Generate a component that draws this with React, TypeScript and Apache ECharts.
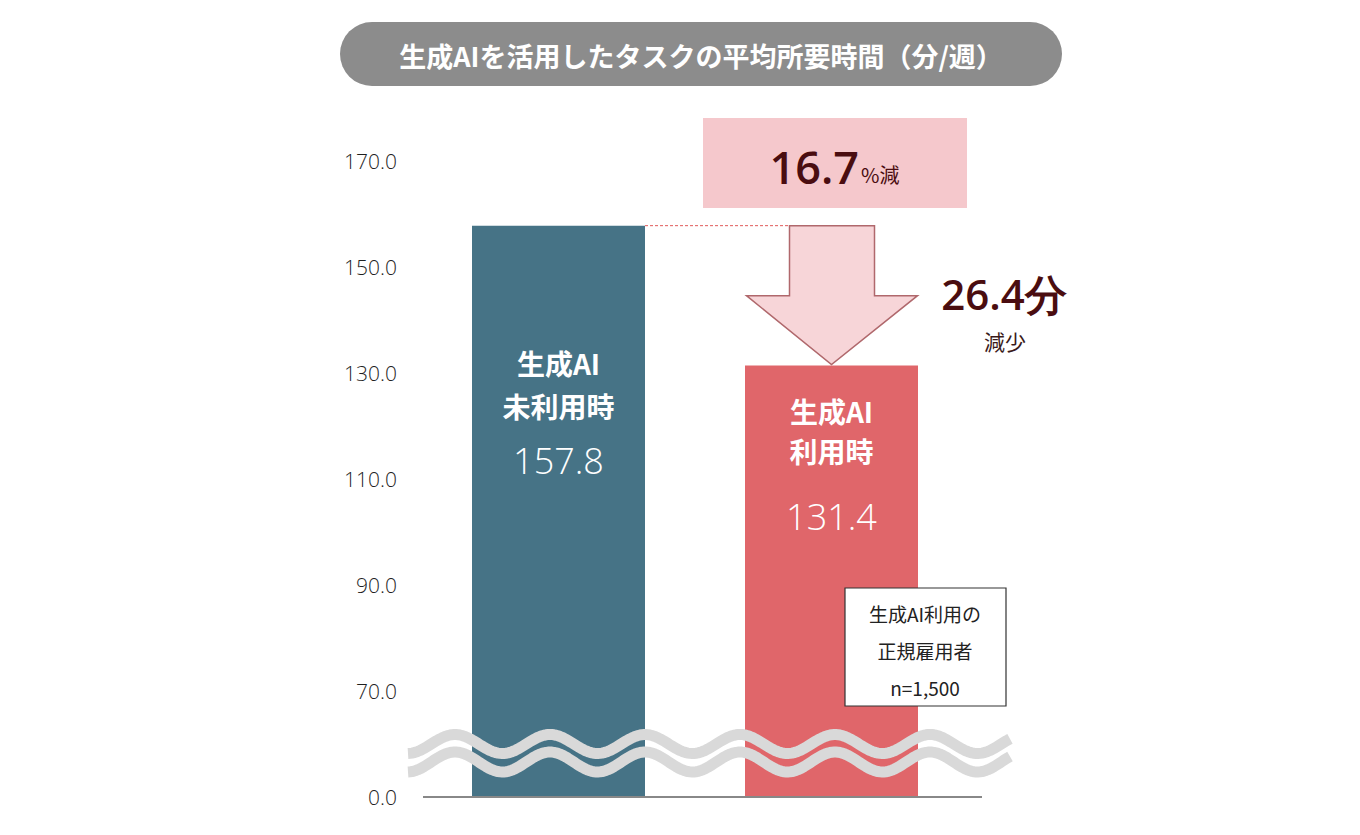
import React, { useEffect, useRef } from "react";
import * as echarts from "echarts";

const categories = ["生成AI\n未利用時", "生成AI\n利用時"];
const values = [157.8, 131.4];
const barColors = ["#467386", "#e0666a"];
const yTickLabels = ["0.0", "70.0", "90.0", "110.0", "130.0", "150.0", "170.0"];
const titleText = "生成AIを活用したタスクの平均所要時間（分/週）";
const noteLines = ["生成AI利用の", "正規雇用者", "n=1,500"];
// broken axis: the segment 0..70 is drawn as one step; axis value = real - 10
const AXIS_SHIFT = 10;
const AXIS_MIN = 40;
const AXIS_MAX = 160;
const AXIS_STEP = 20;

const labelLayout = [
  { distance: 116, tLH: 43, nLH: 65 },
  { distance: 25, tLH: 40, nLH: 92 },
];

export default function App() {
  const ref = useRef<HTMLDivElement>(null);
  useEffect(() => {
    document.body.style.margin = "0";
    const chart = echarts.init(ref.current!, null, { renderer: "svg" });
    const numFont = "'Open Sans', 'Noto Sans', sans-serif";
    const jpFont = "'Noto Sans CJK JP', sans-serif";
    chart.setOption({
      animation: false,
      backgroundColor: "#ffffff",
      grid: { left: 422, right: 392, top: 161, bottom: 38 },
      xAxis: {
        type: "category",
        data: categories,
        axisLine: { show: false },
        axisTick: { show: false },
        axisLabel: { show: false },
      },
      yAxis: {
        type: "value",
        min: AXIS_MIN,
        max: AXIS_MAX,
        interval: AXIS_STEP,
        splitLine: { show: false },
        axisLine: { show: false },
        axisTick: { show: false },
        axisLabel: {
          margin: 25,
          fontSize: 21,
          fontWeight: 300,
          color: "#1f1f1f",
          fontFamily: numFont,
          formatter: (v: number) => yTickLabels[Math.round((v - AXIS_MIN) / AXIS_STEP)],
        },
      },
      series: [
        {
          type: "bar",
          barWidth: 173,
          z: 2,
          data: values.map((v, i) => ({
            value: v - AXIS_SHIFT,
            itemStyle: { color: barColors[i] },
            label: {
              show: true,
              position: "insideTop",
              distance: labelLayout[i].distance,
              formatter: () =>
                categories[i].split("\n").map((l) => `{t|${l}}`).join("\n") +
                `\n{n|${values[i].toFixed(1)}}`,
              rich: {
                t: {
                  fontSize: 28,
                  fontWeight: "bold",
                  color: "#fff",
                  fontFamily: jpFont,
                  lineHeight: labelLayout[i].tLH,
                },
                n: {
                  fontSize: 36,
                  fontWeight: 300,
                  color: "#fff",
                  fontFamily: numFont,
                  lineHeight: labelLayout[i].nLH,
                },
              },
            },
          })),
        },
      ],
    });

    const p1 = chart.convertToPixel({ gridIndex: 0 }, [0, values[0] - AXIS_SHIFT]) as number[];
    const p2 = chart.convertToPixel({ gridIndex: 0 }, [1, values[1] - AXIS_SHIFT]) as number[];
    const base = chart.convertToPixel({ gridIndex: 0 }, [0, AXIS_MIN]) as number[];
    const halfBar = 86.5;
    const diff = values[0] - values[1];
    const pct = (diff / values[0]) * 100;

    const yTop1 = p1[1];
    const yTop2 = p2[1];
    const cx2 = p2[0];
    const headY = yTop1 + 70;

    const wave = (center: number, amp: number) => {
      const pts: number[][] = [];
      for (let x = 408; x <= 1010; x += 2) {
        pts.push([x, center - amp * Math.cos(((x - 455) / 95) * 2 * Math.PI)]);
      }
      return pts;
    };

    chart.setOption({
      graphic: [
        {
          type: "rect",
          shape: { x: 340, y: 22, width: 722, height: 64, r: 32 },
          style: { fill: "#8c8c8c" },
        },
        {
          type: "text",
          x: 701,
          y: 55,
          style: {
            text: titleText,
            align: "center",
            verticalAlign: "middle",
            fontSize: 27,
            fontWeight: "bold",
            fontFamily: jpFont,
            fill: "#ffffff",
          },
        },
        {
          type: "rect",
          shape: { x: 703, y: 118, width: 264, height: 90 },
          style: { fill: "#f5c8cc" },
        },
        {
          type: "text",
          x: 859,
          y: 166,
          style: {
            text: pct.toFixed(1),
            align: "right",
            verticalAlign: "middle",
            fontSize: 45,
            fontWeight: 600,
            fontFamily: numFont,
            fill: "#4a0d10",
          },
        },
        {
          type: "text",
          x: 861,
          y: 174,
          style: {
            text: "%減",
            align: "left",
            verticalAlign: "middle",
            fontSize: 20,
            fontFamily: jpFont,
            fill: "#4a0d10",
          },
        },
        {
          type: "line",
          shape: { x1: p1[0] + halfBar, y1: yTop1, x2: cx2 + 43, y2: yTop1 },
          style: { stroke: "#e05a5a", lineWidth: 1, lineDash: [3, 2] },
        },
        {
          type: "polygon",
          z: 10,
          shape: {
            points: [
              [cx2 - 42, yTop1],
              [cx2 + 43, yTop1],
              [cx2 + 43, headY],
              [cx2 + 86, headY],
              [cx2, yTop2 - 1],
              [cx2 - 85, headY],
              [cx2 - 42, headY],
            ],
          },
          style: { fill: "#f7d5d8", stroke: "#b0686c", lineWidth: 1.5 },
        },
        {
          type: "text",
          x: 1004,
          y: 293,
          style: {
            text: diff.toFixed(1) + "分",
            align: "center",
            verticalAlign: "middle",
            fontSize: 42,
            fontWeight: 600,
            fontFamily: numFont,
            fill: "#4a0d10",
          },
        },
        {
          type: "text",
          x: 1005,
          y: 341,
          style: {
            text: "減少",
            align: "center",
            verticalAlign: "middle",
            fontSize: 21,
            fontFamily: jpFont,
            fill: "#3a1a1a",
          },
        },
        {
          type: "rect",
          z: 10,
          shape: { x: 845, y: 588, width: 161, height: 118 },
          style: { fill: "#ffffff", stroke: "#333333", lineWidth: 1.2 },
        },
        ...noteLines.map((t, i) => ({
          type: "text",
          z: 11,
          x: 925,
          y: 613 + i * 37,
          style: {
            text: t,
            align: "center",
            verticalAlign: "middle",
            fontSize: 19,
            fontFamily: jpFont,
            fill: "#222",
          },
        })),
        {
          type: "polyline",
          z: 20,
          shape: { points: wave(744, 9.5) },
          style: { stroke: "#d9d9d9", lineWidth: 11, lineCap: "butt", lineJoin: "round", fill: null },
        },
        {
          type: "polyline",
          z: 20,
          shape: { points: wave(762, 10) },
          style: { stroke: "#d9d9d9", lineWidth: 11, lineCap: "butt", lineJoin: "round", fill: null },
        },
        {
          type: "line",
          z: 5,
          shape: { x1: 423, y1: base[1], x2: 982, y2: base[1] },
          style: { stroke: "#888888", lineWidth: 2 },
        },
      ],
    });
    return () => chart.dispose();
  }, []);
  return <div ref={ref} style={{ width: 1360, height: 835 }} />;
}
